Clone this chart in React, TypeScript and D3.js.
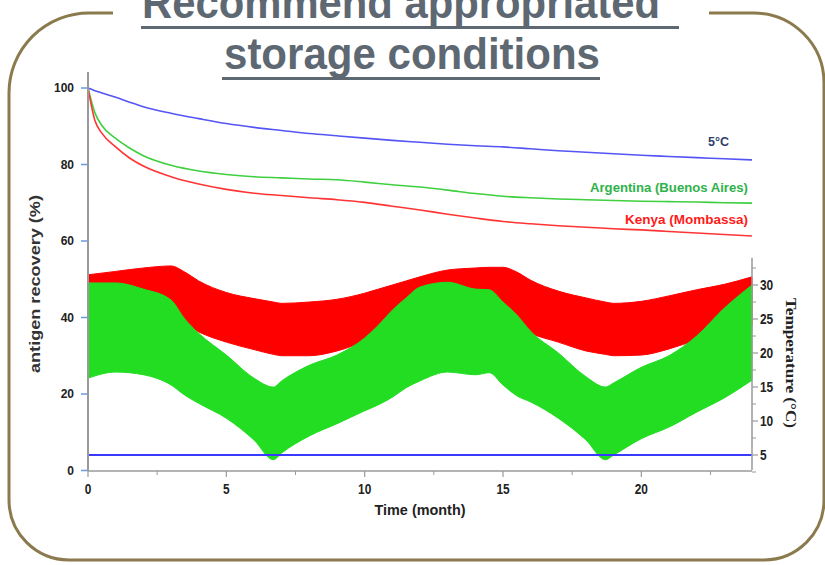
import React from "react";
import * as d3 from "d3";

// ---- recovery curves (left axis, %) ----
const recMonths = [0, 0.25, 0.5, 1, 1.5, 2, 3, 4, 5, 6, 7, 8, 9, 10, 11, 12, 13, 14, 15, 16, 17, 18, 19, 20, 21, 22, 23, 24];
const rec5C = [100, 99.3, 98.7, 97.6, 96.3, 95.1, 93.4, 92.0, 90.7, 89.7, 88.9, 88.1, 87.5, 86.9, 86.3, 85.8, 85.3, 84.9, 84.6, 84.1, 83.6, 83.2, 82.8, 82.4, 82.1, 81.8, 81.5, 81.2];
const recArgentina = [100, 93.5, 90.2, 86.8, 84.3, 82.3, 79.8, 78.3, 77.4, 76.8, 76.5, 76.2, 76.0, 75.4, 74.7, 74.1, 73.3, 72.4, 71.7, 71.3, 71.0, 70.8, 70.6, 70.4, 70.3, 70.2, 70.0, 69.9];
const recKenya = [100, 91.5, 88.2, 84.6, 81.7, 79.6, 76.8, 74.9, 73.5, 72.5, 71.9, 71.3, 70.8, 70.1, 69.1, 68.1, 67.0, 66.0, 65.1, 64.5, 64.0, 63.6, 63.2, 62.9, 62.5, 62.1, 61.7, 61.3];

// ---- temperature bands (right axis, °C) ----
const bandMonths = [0, 1, 2, 3, 3.5, 4, 5, 6, 6.7, 7, 8, 9, 10, 10.5, 11, 11.5, 12, 13, 14, 14.5, 15, 15.5, 16, 17, 18, 18.7, 19, 20, 21, 22, 23, 24];
const kenyaMax = [31.5, 32.0, 32.5, 32.8, 31.9, 30.6, 28.9, 28.0, 27.5, 27.3, 27.5, 27.9, 28.8, 29.4, 30.0, 30.6, 31.2, 32.2, 32.5, 32.6, 32.6, 31.9, 30.7, 29.1, 28.1, 27.5, 27.3, 27.6, 28.4, 29.3, 30.1, 31.2];
const kenyaMin = [23.4, 24.0, 24.4, 24.6, 24.2, 23.1, 21.6, 20.5, 19.8, 19.6, 19.6, 20.3, 21.6, 22.1, 22.6, 23.1, 23.5, 24.3, 24.6, 24.6, 24.6, 24.0, 22.9, 21.6, 20.3, 19.8, 19.6, 19.7, 20.6, 21.9, 22.9, 24.0];
const argMax = [30.3, 30.3, 29.4, 27.8, 25.0, 22.9, 19.7, 16.3, 15.0, 15.9, 18.2, 19.7, 22.2, 24.1, 26.3, 28.1, 29.7, 30.4, 29.4, 29.3, 27.5, 25.6, 23.2, 20.0, 16.5, 15.0, 15.6, 17.9, 19.6, 22.5, 26.6, 30.0];
const argMin = [16.3, 17.2, 16.8, 15.3, 13.8, 12.6, 10.4, 7.2, 4.3, 5.3, 7.8, 9.6, 11.5, 12.4, 13.5, 14.9, 15.9, 17.2, 16.8, 17.1, 15.3, 13.7, 12.8, 10.4, 7.2, 4.3, 5.0, 7.4, 9.1, 11.3, 13.4, 16.0];
const fridgeTemp = 5;

// ---- ticks / labels ----
const xTicks = [0, 5, 10, 15, 20];
const xMinorTicks = [2.5, 7.5, 12.5, 17.5, 22.5];
const yLeftTicks = [0, 20, 40, 60, 80, 100];
const yRightTicks = [5, 10, 15, 20, 25, 30];
const yRightMinor = [2.5, 7.5, 12.5, 17.5, 22.5, 27.5, 32.5];
const seriesLabels = ["5°C", "Argentina (Buenos Aires)", "Kenya (Mombassa)"];
const titleLines = ["Recommend appropriated ", "storage conditions"];

const SANS = "'Liberation Sans', Arial, sans-serif";

export default function App() {
  const x = d3.scaleLinear().domain([0, 24]).range([88, 752]);
  const yL = d3.scaleLinear().domain([0, 100]).range([470.5, 88]);
  const yT = d3.scaleLinear().domain([5, 30]).range([455, 285]);

  const recLine = (vals: number[]) =>
    d3
      .line<number>()
      .x((_, i) => x(recMonths[i]))
      .y((v) => yL(v))
      .curve(d3.curveMonotoneX)(vals) as string;

  const band = (lo: number[], hi: number[]) =>
    d3
      .area<number>()
      .x((_, i) => x(bandMonths[i]))
      .y0((_, i) => yT(lo[i]))
      .y1((_, i) => yT(hi[i]))
      .curve(d3.curveMonotoneX)(bandMonths) as string;

  const axisGray = "#9a9a9a";
  const tBottom = yT(2.8);
  const tTop = yT(34);

  return (
    <svg
      width={825}
      height={565}
      style={{ position: "absolute", left: 0, top: 0, background: "#fff" }}
    >
      {/* frame */}
      <path
        d="M 113 13 H 89 A 80 80 0 0 0 9 93 V 500 A 60 60 0 0 0 69 560 H 764 A 60 60 0 0 0 824 500 V 83 A 70 70 0 0 0 754 13 H 709"
        fill="none"
        stroke="#8b7a4e"
        strokeWidth={3}
      />

      {/* title */}
      <g fill="#5d6872" fontFamily={SANS} fontWeight="bold" fontSize={44}>
        <text x={142} y={18} textLength={518} lengthAdjust="spacingAndGlyphs">
          {titleLines[0].trim()}
        </text>
        <text x={224} y={69} textLength={376} lengthAdjust="spacingAndGlyphs">
          {titleLines[1]}
        </text>
        <rect x={141} y={26} width={538} height={3} />
        <rect x={222} y={77} width={378} height={3} />
      </g>

      {/* temperature bands */}
      <path d={band(kenyaMin, kenyaMax)} fill="#ff0000" stroke="#ff0000" strokeWidth={1} />
      <path d={band(argMin, argMax)} fill="#22dd22" stroke="#22dd22" strokeWidth={1} />
      <line
        x1={x(0)}
        x2={x(24)}
        y1={yT(fridgeTemp)}
        y2={yT(fridgeTemp)}
        stroke="#3a3aff"
        strokeWidth={2}
      />

      {/* recovery curves */}
      <path d={recLine(rec5C)} fill="none" stroke="#5555f5" strokeWidth={1.6} />
      <path d={recLine(recArgentina)} fill="none" stroke="#3fcf3f" strokeWidth={1.6} />
      <path d={recLine(recKenya)} fill="none" stroke="#ff3535" strokeWidth={1.6} />

      {/* series labels */}
      <g fontFamily={SANS} fontWeight="bold" fontSize={12.5} textAnchor="end">
        <text x={729} y={146} fill="#2f3f6a" textLength={21} lengthAdjust="spacingAndGlyphs">
          {seriesLabels[0]}
        </text>
        <text x={748} y={192} fill="#2fb24a" textLength={158} lengthAdjust="spacingAndGlyphs">
          {seriesLabels[1]}
        </text>
        <text x={748} y={224} fill="#ff1a1a" textLength={123} lengthAdjust="spacingAndGlyphs">
          {seriesLabels[2]}
        </text>
      </g>

      {/* left axis */}
      <line x1={88} x2={88} y1={72} y2={471} stroke={axisGray} strokeWidth={2} />
      {yLeftTicks.map((t) => (
        <g key={"yl" + t}>
          <line x1={81} x2={88} y1={yL(t)} y2={yL(t)} stroke="#6b9ad6" strokeWidth={1.5} />
          <text
            x={74}
            y={yL(t)}
            dy="0.35em"
            textAnchor="end"
            fontFamily={SANS}
            fontWeight="bold"
            fontSize={12}
            fill="#222"
          >
            {t}
          </text>
        </g>
      ))}
      <text
        transform={`translate(40, ${284}) rotate(-90)`}
        textAnchor="middle"
        fontFamily={SANS}
        fontWeight="bold"
        fontSize={14}
        fill="#333"
        textLength={178}
        lengthAdjust="spacingAndGlyphs"
      >
        antigen recovery (%)
      </text>

      {/* bottom axis */}
      <line x1={88} x2={752} y1={471} y2={471} stroke={axisGray} strokeWidth={1.5} />
      {xTicks.map((t) => (
        <g key={"x" + t}>
          <line x1={x(t)} x2={x(t)} y1={471} y2={477} stroke={axisGray} strokeWidth={1.2} />
          <text
            x={x(t)}
            y={494}
            textAnchor="middle"
            fontFamily={SANS}
            fontWeight="bold"
            fontSize={14}
            fill="#222"
            textLength={String(t).length * 6.6}
            lengthAdjust="spacingAndGlyphs"
          >
            {t}
          </text>
        </g>
      ))}
      {xMinorTicks.map((t) => (
        <line key={"xm" + t} x1={x(t)} x2={x(t)} y1={471} y2={475} stroke={axisGray} strokeWidth={1} />
      ))}
      <text
        x={420}
        y={515}
        textAnchor="middle"
        fontFamily={SANS}
        fontWeight="bold"
        fontSize={15}
        fill="#222"
        textLength={91}
        lengthAdjust="spacingAndGlyphs"
      >
        Time (month)
      </text>

      {/* right axis */}
      <line x1={752} x2={752} y1={tTop} y2={tBottom} stroke={axisGray} strokeWidth={1.5} />
      {yRightTicks.map((t) => (
        <g key={"yr" + t}>
          <line x1={752} x2={758} y1={yT(t)} y2={yT(t)} stroke={axisGray} strokeWidth={1.2} />
          <text
            x={760}
            y={yT(t)}
            dy="0.36em"
            fontFamily={SANS}
            fontWeight="bold"
            fontSize={15}
            fill="#222"
            textLength={String(t).length * 6.6}
            lengthAdjust="spacingAndGlyphs"
          >
            {t}
          </text>
        </g>
      ))}
      {yRightMinor.map((t) => (
        <line key={"yrm" + t} x1={752} x2={756} y1={yT(t)} y2={yT(t)} stroke={axisGray} strokeWidth={1} />
      ))}
      <text
        transform={`translate(786, ${363}) rotate(90)`}
        textAnchor="middle"
        fontFamily="'Liberation Serif', 'Times New Roman', serif"
        fontWeight="bold"
        fontSize={14}
        fill="#222"
        textLength={130}
        lengthAdjust="spacingAndGlyphs"
      >
        Temperature (°C)
      </text>
    </svg>
  );
}
